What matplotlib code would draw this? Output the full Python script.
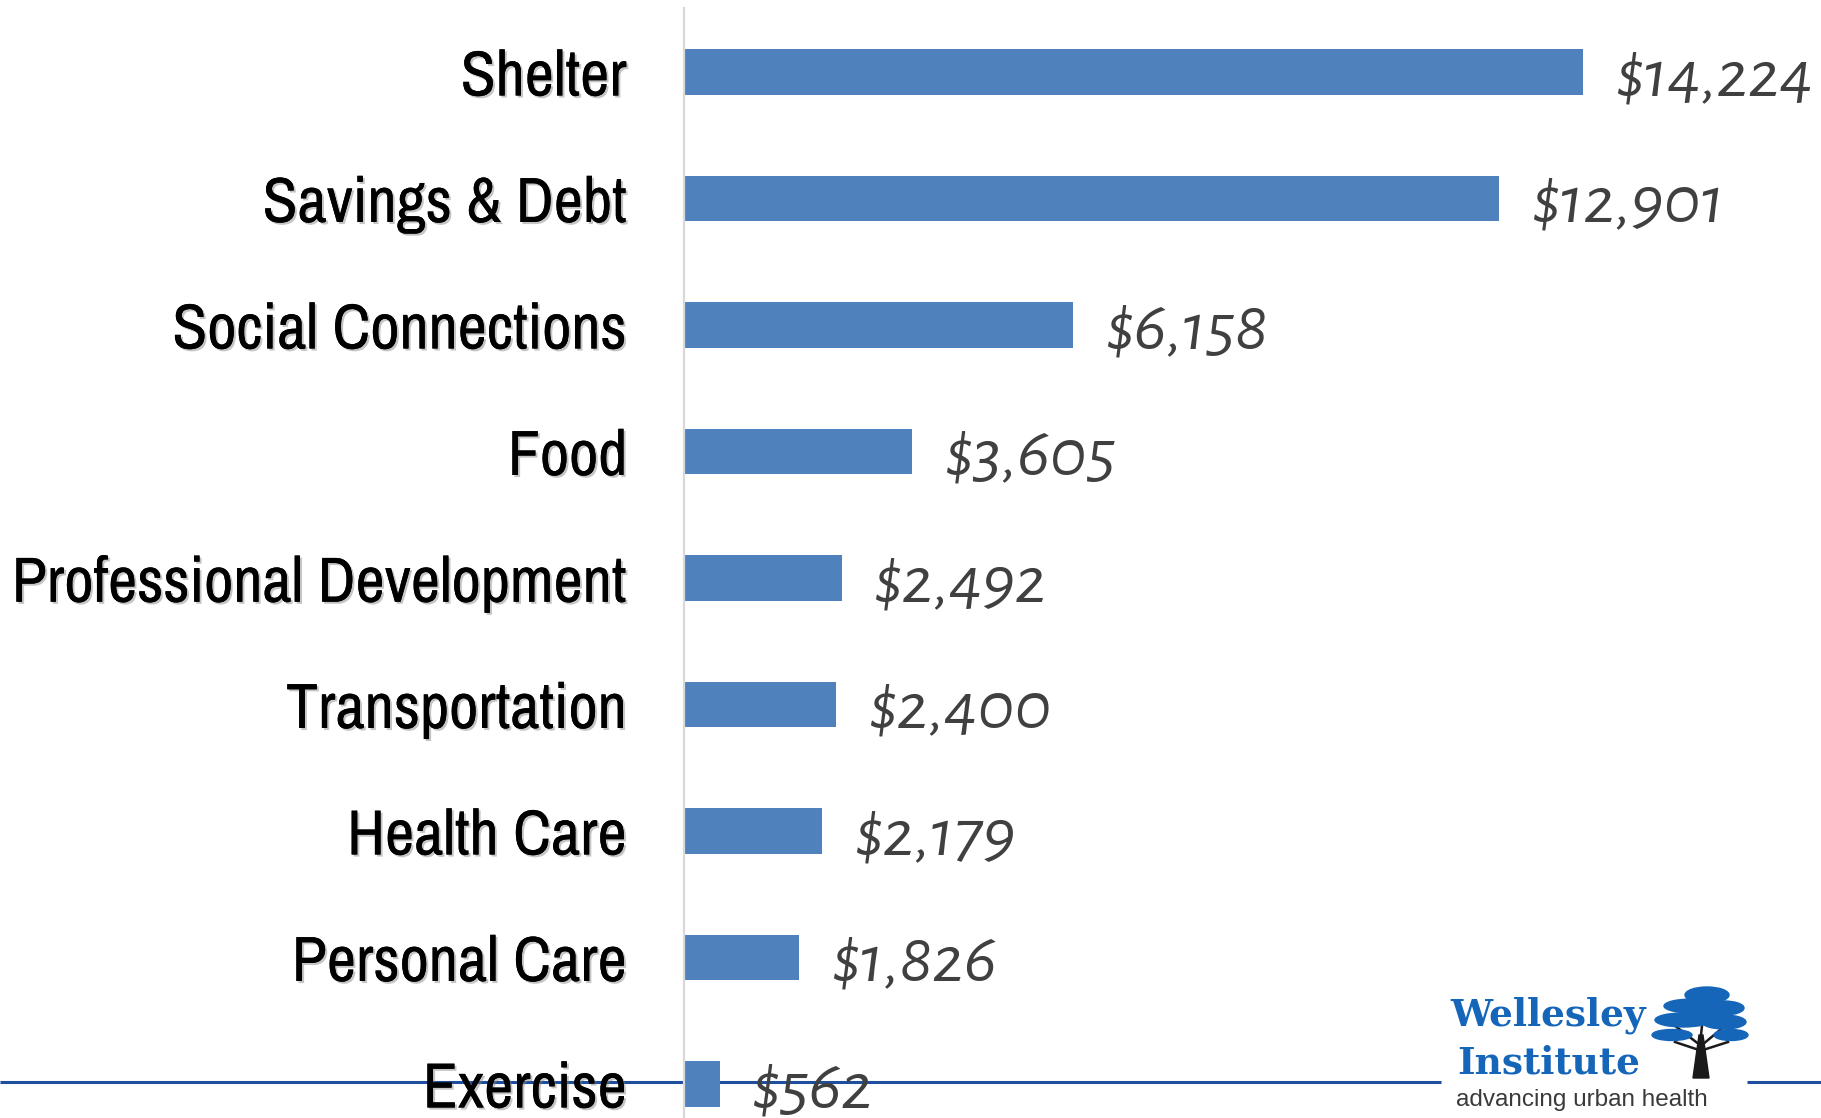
import matplotlib

matplotlib.use("Agg")

import matplotlib.pyplot as plt
import matplotlib.patheffects as pe
from matplotlib import font_manager
from matplotlib.patches import Ellipse, Polygon

categories = [
    "Shelter",
    "Savings & Debt",
    "Social Connections",
    "Food",
    "Professional Development",
    "Transportation",
    "Health Care",
    "Personal Care",
    "Exercise",
]
values = [14224, 12901, 6158, 3605, 2492, 2400, 2179, 1826, 562]

BAR_COLOR = "#4f81bd"
LABEL_COLOR = "#404040"
RULE_COLOR = "#1f4e9c"
LOGO_BLUE = "#1565b8"

W, H, DPI = 1821, 1118, 100


def pick_family(preferred: list[str]) -> str:
    installed = {f.name for f in font_manager.fontManager.ttflist}
    for name in preferred:
        if name in installed:
            return name
    return "DejaVu Sans"


label_family = pick_family(["Archivo Narrow", "PT Sans Narrow", "Liberation Sans"])
value_family = pick_family(["Alegreya Sans", "Open Sans", "DejaVu Sans"])

fig = plt.figure(figsize=(W / DPI, H / DPI), dpi=DPI)

# overlay in pixel coords for the rule line and logo (behind the chart)
bg = fig.add_axes([0, 0, 1, 1], zorder=-1)
bg.set_xlim(0, W)
bg.set_ylim(H, 0)
bg.axis("off")

# main chart
left_px, top_px = 684, 8
ax = fig.add_axes([left_px / W, 0, (W - left_px) / W, (H - top_px) / H], zorder=1)
ax.set_facecolor("none")

px_per_dollar = 899 / 14224
row_px = 126.5
first_center = 72
ax.set_xlim(0, (W - left_px) / px_per_dollar)
ax.set_ylim((H - first_center) / row_px, -(first_center - top_px) / row_px)

positions = list(range(len(categories)))
ax.barh(positions, values, height=0.36, color=BAR_COLOR, zorder=2)

ax.set_yticks(positions, labels=categories)
ax.tick_params(axis="y", length=0, pad=41)
ax.set_xticks([])
for lab in ax.get_yticklabels():
    lab.set_fontfamily(label_family)
    lab.set_fontsize(46)
    lab.set_color("black")
    lab.set_path_effects(
        [pe.withSimplePatchShadow(offset=(1.5, -1.5), shadow_rgbFace="#7f7f7f", alpha=0.45), pe.Normal()]
    )

for spine in ["top", "right", "bottom"]:
    ax.spines[spine].set_visible(False)
ax.spines["left"].set_color("#d9d9d9")
ax.spines["left"].set_linewidth(1.6)

for pos, val in zip(positions, values):
    ax.annotate(
        f"${val:,}",
        xy=(val, pos),
        xytext=(23, -4),
        textcoords="offset points",
        ha="left",
        va="center",
        fontsize=50,
        fontstyle="italic",
        fontfamily=value_family,
        color=LABEL_COLOR,
        annotation_clip=False,
    )

# blue rule with a gap for the logo
bg.plot([0, 1441], [1082, 1082], color=RULE_COLOR, lw=2.2, solid_capstyle="butt")
bg.plot([1747, W], [1082, 1082], color=RULE_COLOR, lw=2.2, solid_capstyle="butt")

# logo text
bg.text(1450, 1026, "Wellesley", fontfamily="DejaVu Serif", fontweight="bold",
        fontsize=27, color=LOGO_BLUE, ha="left", va="baseline")
bg.text(1457, 1073, "Institute", fontfamily="DejaVu Serif", fontweight="bold",
        fontsize=27, color=LOGO_BLUE, ha="left", va="baseline")
bg.text(1456, 1106, "advancing urban health", fontfamily="Liberation Sans",
        fontsize=17.5, color="#3a3a3a", ha="left", va="baseline")

# tree
trunk = Polygon([(1693, 1078), (1699, 1035), (1703, 1035), (1709, 1078)],
                closed=True, color="#1a1a1a", zorder=2)
bg.add_patch(trunk)
for x0, y0, x1, y1 in [(1700, 1045, 1670, 1022), (1702, 1045, 1732, 1020),
                       (1701, 1035, 1705, 998), (1699, 1050, 1675, 1042),
                       (1703, 1050, 1728, 1042)]:
    bg.plot([x0, x1], [y0, y1], color="#1a1a1a", lw=1.8, zorder=2)
for cx, cy, ew, eh in [(1707, 995, 44, 16), (1692, 1006, 56, 14), (1724, 1008, 40, 14),
                       (1683, 1020, 56, 14), (1724, 1022, 44, 14), (1672, 1035, 40, 11),
                       (1731, 1035, 34, 11), (1705, 1015, 30, 10)]:
    bg.add_patch(Ellipse((cx, cy), ew, eh, color=LOGO_BLUE, zorder=3))

fig.savefig("out.png", dpi=DPI)
